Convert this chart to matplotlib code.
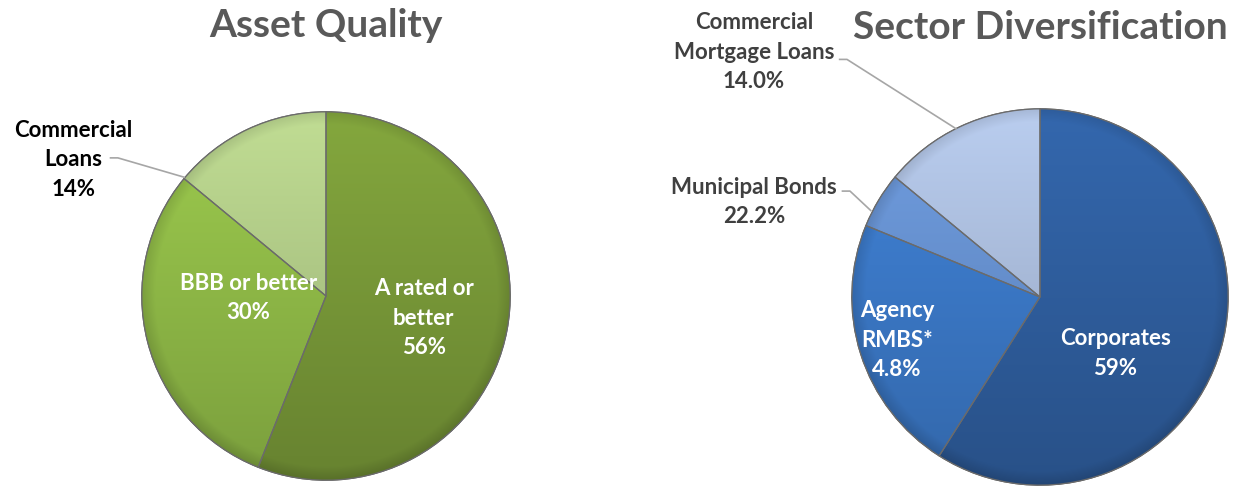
import numpy as np
import matplotlib
matplotlib.use("Agg")
import matplotlib.pyplot as plt
from matplotlib.colors import to_rgb
from matplotlib.patches import Wedge

plt.rcParams['font.family'] = ['Lato', 'DejaVu Sans']
plt.rcParams['font.weight'] = 'bold'

# Asset Quality (clockwise from 12 o'clock)
aq_names = ["A rated or\nbetter", "BBB or better", "Commercial\nLoans"]
aq_values = [56, 30, 14]
aq_text = ["56%", "30%", "14%"]
aq_colors = ["#789838", "#8FB947", "#AFC986"]

# Sector Diversification (clockwise from 12 o'clock, labels as printed)
sd_names = ["Corporates", "Agency\nRMBS*", "Municipal Bonds", "Commercial\nMortgage Loans"]
sd_values = [59, 22.2, 4.8, 14.0]
sd_text = ["59%", "4.8%", "22.2%", "14.0%"]
sd_colors = ["#2F5E9E", "#3B78C6", "#6690CE", "#A9BBDA"]

W, H = 1233, 501
fig = plt.figure(figsize=(W / 100, H / 100), dpi=100)
fig.patch.set_facecolor("white")


def make_axes(cx, cy, r):
    ax = fig.add_axes([(cx - r) / W, (H - cy - r) / H, 2 * r / W, 2 * r / H])
    ax.set_aspect("equal")
    ax.axis("off")
    return ax


def shade(ax, wedges, colors):
    # vertical light->dark gradient with a soft darker rim, clipped to each wedge
    n = 300
    xs = np.linspace(-1, 1, n)
    X, Y = np.meshgrid(xs, xs[::-1])
    R = np.sqrt(X ** 2 + Y ** 2)
    m = 1.10 - 0.24 * (1 - Y) / 2
    m = m - 0.12 * np.clip((R - 0.93) / 0.07, 0, 1)
    for w, c in zip(wedges, colors):
        rgb = np.array(to_rgb(c))
        img = np.clip(rgb[None, None, :] * m[:, :, None], 0, 1)
        im = ax.imshow(img, extent=[-1, 1, -1, 1], zorder=2, interpolation="bilinear")
        im.set_clip_path(w)
        w.set_zorder(1)


def draw_pie(ax, values, colors):
    wedges, _ = ax.pie(values, colors=colors, startangle=90, counterclock=False,
                       radius=1.0, wedgeprops=dict(edgecolor="#5c5c5c", linewidth=0.9))
    shade(ax, wedges, colors)
    for w in wedges:
        ax.add_patch(Wedge(w.center, w.r, w.theta1, w.theta2, facecolor="none",
                           edgecolor="#6b6b6b", linewidth=0.9, zorder=3))
    ax.set_xlim(-1.01, 1.01)
    ax.set_ylim(-1.01, 1.01)
    return wedges


lab_fs = 16
ls = 1.5
kw = dict(ha="center", va="center", fontsize=lab_fs, fontweight="bold",
          linespacing=ls, zorder=5, clip_on=False)

# ---------------- Asset Quality ----------------
ax1 = make_axes(326, 296, 186)
draw_pie(ax1, aq_values, aq_colors)
ax1.text(0, 1.47, "Asset Quality", ha="center", va="center", fontsize=28,
         color="#595959", fontweight="bold", clip_on=False)
ax1.text(0.53, -0.12, aq_names[0] + "\n" + aq_text[0], color="white", **kw)
ax1.text(-0.42, -0.01, aq_names[1] + "\n" + aq_text[1], color="white", **kw)
ax1.text(-1.37, 0.74, aq_names[2] + "\n" + aq_text[2], color="black", **kw)
ax1.plot([-1.17, -1.13, -0.77], [0.75, 0.75, 0.645], color="#a6a6a6", lw=1.2,
         clip_on=False, zorder=4)

# ---------------- Sector Diversification ----------------
ax2 = make_axes(1040, 297, 190)
draw_pie(ax2, sd_values, sd_colors)
ax2.text(0, 1.43, "Sector Diversification", ha="center", va="center", fontsize=28,
         color="#595959", fontweight="bold", clip_on=False)
ax2.text(0.40, -0.30, sd_names[0] + "\n" + sd_text[0], color="white", **kw)
ax2.text(-0.76, -0.23, sd_names[1] + "\n" + sd_text[1], color="white", **kw)
ax2.text(-1.52, 0.505, sd_names[2] + "\n" + sd_text[2], color="#404040", **kw)
ax2.text(-1.52, 1.30, sd_names[3] + "\n" + sd_text[3], color="#404040", **kw)
ax2.plot([-1.065, -1.026, -0.447], [1.263, 1.263, 0.895], color="#a6a6a6", lw=1.2,
         clip_on=False, zorder=4)
ax2.plot([-1.05, -1.01, -0.90], [0.563, 0.563, 0.46], color="#a6a6a6", lw=1.2,
         clip_on=False, zorder=4)

fig.savefig("out.png", dpi=100, facecolor="white")
